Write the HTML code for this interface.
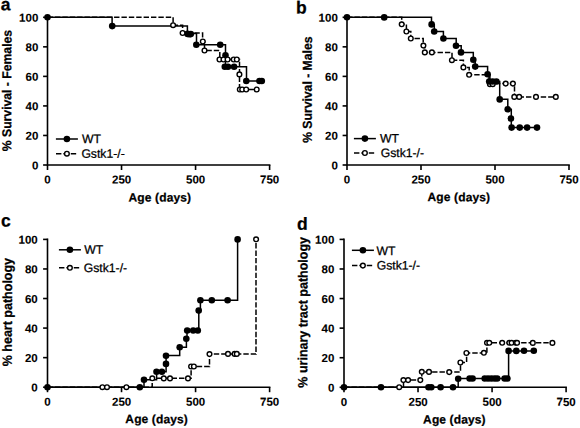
<!DOCTYPE html>
<html><head><meta charset="utf-8"><title>Survival and pathology</title>
<style>
html,body{margin:0;padding:0;background:#fff;}
body{width:580px;height:428px;overflow:hidden;}
svg{display:block;}
text{text-rendering:geometricPrecision;stroke:#000;stroke-width:0.25px;}
.ax path{stroke:#000;stroke-width:1.6;fill:none;stroke-linecap:square;}
.ax path.tk{stroke-linecap:butt;}
.tl{font-family:"Liberation Sans",sans-serif;font-weight:bold;font-size:12px;fill:#000;}
.tk{font-family:"Liberation Sans",sans-serif;font-weight:bold;font-size:11.5px;fill:#000;stroke-width:0.1px;}
.let{font-family:"Liberation Sans",sans-serif;font-weight:bold;font-size:17.5px;fill:#000;}
.lg{font-family:"Liberation Sans",sans-serif;font-size:12.2px;fill:#000;}
.wt{stroke:#000;stroke-width:1.5;fill:none;}
.ko{stroke:#000;stroke-width:1.5;fill:none;stroke-dasharray:5.4 1.985;stroke-dashoffset:-0.1;}
.fd{fill:#000;stroke:none;}
.oc{fill:#fff;stroke:#000;stroke-width:1.4;}
</style></head>
<body>
<svg width="580" height="428" viewBox="0 0 580 428">
<rect width="580" height="428" fill="#fff"/>
<g class="ax">
<path d="M47.5,17.3 V165 H269.6"/>
<path class="tk" d="M43.1,165 H47.5"/>
<path class="tk" d="M43.1,135.46 H47.5"/>
<path class="tk" d="M43.1,105.92 H47.5"/>
<path class="tk" d="M43.1,76.38 H47.5"/>
<path class="tk" d="M43.1,46.84 H47.5"/>
<path class="tk" d="M43.1,17.3 H47.5"/>
<path class="tk" d="M47.5,165 V170"/>
<path class="tk" d="M121.53,165 V170"/>
<path class="tk" d="M195.57,165 V170"/>
<path class="tk" d="M269.6,165 V170"/>
</g>
<text class="tk" x="38.3" y="169.4" text-anchor="end" transform="rotate(0.1 38.3 169.4)">0</text>
<text class="tk" x="38.3" y="139.86" text-anchor="end" transform="rotate(0.1 38.3 139.86)">20</text>
<text class="tk" x="38.3" y="110.32" text-anchor="end" transform="rotate(0.1 38.3 110.32)">40</text>
<text class="tk" x="38.3" y="80.78" text-anchor="end" transform="rotate(0.1 38.3 80.78)">60</text>
<text class="tk" x="38.3" y="51.24" text-anchor="end" transform="rotate(0.1 38.3 51.24)">80</text>
<text class="tk" x="38.3" y="21.7" text-anchor="end" transform="rotate(0.1 38.3 21.7)">100</text>
<text class="tk" x="47.55" y="183.6" text-anchor="middle" transform="rotate(0.1 47.55 183.6)">0</text>
<text class="tk" x="121.58" y="183.6" text-anchor="middle" transform="rotate(0.1 121.58 183.6)">250</text>
<text class="tk" x="195.62" y="183.6" text-anchor="middle" transform="rotate(0.1 195.62 183.6)">500</text>
<text class="tk" x="269.65" y="183.6" text-anchor="middle" transform="rotate(0.1 269.65 183.6)">750</text>
<text class="tl" style="font-size:12.2px" transform="translate(11.3,90.55) rotate(-89.9) scale(1,1.06)" text-anchor="middle">% Survival - Females</text>
<text class="tl" x="128.55" y="201.4" style="letter-spacing:0.13px" transform="rotate(0.1 128.55 201.4)">Age (days)</text>
<text class="let" x="0.8" y="10.3" transform="rotate(0.1 0.8 10.3)">a</text>
<path class="wt" d="M47.5,17.3 H112.1 V26.1 H187.4 V33.6 H196.5 V44.8 H225.5 V55.2 V66.8 H246.5 V81 H262"/>
<path class="ko" d="M47.5,17.3 H173.1 V25.2 H182.6 V33 H202.6 V41.5 H204.5 V50.5 H219.8 V59.5 H239.5 V74.4 V89.5 H256.7"/>
<circle class="fd" cx="47.5" cy="17.3" r="3.3"/>
<circle class="fd" cx="112.2" cy="26.1" r="3.3"/>
<circle class="fd" cx="187.6" cy="33.9" r="3.3"/>
<circle class="fd" cx="189.3" cy="34.3" r="3.3"/>
<circle class="fd" cx="190.8" cy="34.1" r="3.3"/>
<circle class="fd" cx="196.3" cy="44.8" r="3.3"/>
<circle class="fd" cx="220.2" cy="44.8" r="3.3"/>
<circle class="fd" cx="225.5" cy="55.2" r="3.3"/>
<circle class="fd" cx="224.8" cy="66.8" r="3.3"/>
<circle class="fd" cx="228" cy="66.8" r="3.3"/>
<circle class="fd" cx="234.1" cy="66.8" r="3.3"/>
<circle class="fd" cx="246.3" cy="81" r="3.3"/>
<circle class="fd" cx="259.5" cy="81" r="3.3"/>
<circle class="fd" cx="261.8" cy="81" r="3.3"/>
<circle class="oc" cx="173.1" cy="25.2" r="2.35"/>
<circle class="oc" cx="182.6" cy="33" r="2.35"/>
<circle class="oc" cx="202.8" cy="41.5" r="2.35"/>
<circle class="oc" cx="204.5" cy="50.5" r="2.35"/>
<circle class="oc" cx="219.5" cy="59.5" r="2.35"/>
<circle class="oc" cx="223.5" cy="59.5" r="2.35"/>
<circle class="oc" cx="227.6" cy="59.5" r="2.35"/>
<circle class="oc" cx="233.7" cy="59.5" r="2.35"/>
<circle class="oc" cx="236.8" cy="59.5" r="2.35"/>
<circle class="oc" cx="239.4" cy="74.4" r="2.35"/>
<circle class="oc" cx="239.8" cy="89.5" r="2.35"/>
<circle class="oc" cx="242.2" cy="89.5" r="2.35"/>
<circle class="oc" cx="246.2" cy="89.5" r="2.35"/>
<circle class="oc" cx="256.7" cy="89.5" r="2.35"/>
<path class="wt" d="M55.9,139 H77.9"/>
<circle class="fd" cx="66.9" cy="139" r="3.3"/>
<path class="ko" d="M55.9,153.7 H77.9"/>
<circle class="oc" cx="66.9" cy="153.7" r="2.35"/>
<text class="lg" x="82" y="143" transform="rotate(0.1 82 143)">WT</text>
<text class="lg" x="81.4" y="157.75" transform="rotate(0.1 81.4 157.75)">Gstk1-/-</text>
<g class="ax">
<path d="M347,17.3 V165 H569"/>
<path class="tk" d="M342.6,165 H347"/>
<path class="tk" d="M342.6,135.46 H347"/>
<path class="tk" d="M342.6,105.92 H347"/>
<path class="tk" d="M342.6,76.38 H347"/>
<path class="tk" d="M342.6,46.84 H347"/>
<path class="tk" d="M342.6,17.3 H347"/>
<path class="tk" d="M347,165 V170"/>
<path class="tk" d="M421,165 V170"/>
<path class="tk" d="M495,165 V170"/>
<path class="tk" d="M569,165 V170"/>
</g>
<text class="tk" x="337.8" y="169.4" text-anchor="end" transform="rotate(0.1 337.8 169.4)">0</text>
<text class="tk" x="337.8" y="139.86" text-anchor="end" transform="rotate(0.1 337.8 139.86)">20</text>
<text class="tk" x="337.8" y="110.32" text-anchor="end" transform="rotate(0.1 337.8 110.32)">40</text>
<text class="tk" x="337.8" y="80.78" text-anchor="end" transform="rotate(0.1 337.8 80.78)">60</text>
<text class="tk" x="337.8" y="51.24" text-anchor="end" transform="rotate(0.1 337.8 51.24)">80</text>
<text class="tk" x="337.8" y="21.7" text-anchor="end" transform="rotate(0.1 337.8 21.7)">100</text>
<text class="tk" x="347.05" y="183.6" text-anchor="middle" transform="rotate(0.1 347.05 183.6)">0</text>
<text class="tk" x="421.05" y="183.6" text-anchor="middle" transform="rotate(0.1 421.05 183.6)">250</text>
<text class="tk" x="495.05" y="183.6" text-anchor="middle" transform="rotate(0.1 495.05 183.6)">500</text>
<text class="tk" x="569.05" y="183.6" text-anchor="middle" transform="rotate(0.1 569.05 183.6)">750</text>
<text class="tl" style="font-size:12.2px" transform="translate(311.8,89.7) rotate(-89.9) scale(1,1.06)" text-anchor="middle">% Survival - Males</text>
<text class="tl" x="427.55" y="201.1" style="letter-spacing:0.13px" transform="rotate(0.1 427.55 201.1)">Age (days)</text>
<text class="let" x="295.9" y="13.6" transform="rotate(0.1 295.9 13.6)">b</text>
<path class="wt" d="M347,17.3 H431.5 V24.4 H434.3 V31.4 H443.4 V38.5 H456.2 V45.7 H461.2 V52.4 H473.3 V59.8 H475.2 V66.6 H487.6 V74.3 H489 V81.5 H499.7 V99.2 H507.8 V109.2 H511.3 V118.5 V127.6 H537"/>
<path class="ko" d="M347,17.3 H401.7 V24.3 H406.4 V31.5 H410.8 V38.5 H423.2 V45.6 H424.8 V52.4 H452 V60.2 H463.4 V67.4 H469.2 V74.8 H489.9 V83.6 H514.5 V96.9 H555.8"/>
<circle class="oc" cx="489.9" cy="84.2" r="2.35"/>
<circle class="oc" cx="492.7" cy="84.2" r="2.35"/>
<circle class="fd" cx="347" cy="17.3" r="3.3"/>
<circle class="fd" cx="384.2" cy="17.4" r="3.3"/>
<circle class="fd" cx="431.6" cy="24.4" r="3.3"/>
<circle class="fd" cx="434.2" cy="31.5" r="3.3"/>
<circle class="fd" cx="443.4" cy="38.5" r="3.3"/>
<circle class="fd" cx="456" cy="45.7" r="3.3"/>
<circle class="fd" cx="461" cy="52.4" r="3.3"/>
<circle class="fd" cx="473.3" cy="59.8" r="3.3"/>
<circle class="fd" cx="475.2" cy="66.6" r="3.3"/>
<circle class="fd" cx="487.6" cy="74.3" r="3.3"/>
<circle class="fd" cx="489.2" cy="81.5" r="3.3"/>
<circle class="fd" cx="492.6" cy="81.5" r="3.3"/>
<circle class="fd" cx="496.4" cy="81.5" r="3.3"/>
<circle class="fd" cx="499.7" cy="99.4" r="3.3"/>
<circle class="fd" cx="507.7" cy="109.3" r="3.3"/>
<circle class="fd" cx="510.9" cy="118.5" r="3.3"/>
<circle class="fd" cx="511.6" cy="127.6" r="3.3"/>
<circle class="fd" cx="519.7" cy="127.6" r="3.3"/>
<circle class="fd" cx="527.1" cy="127.6" r="3.3"/>
<circle class="fd" cx="537" cy="127.6" r="3.3"/>
<circle class="oc" cx="401.7" cy="24.3" r="2.35"/>
<circle class="oc" cx="406.4" cy="31.5" r="2.35"/>
<circle class="oc" cx="410.8" cy="38.5" r="2.35"/>
<circle class="oc" cx="423.4" cy="45.6" r="2.35"/>
<circle class="oc" cx="424.8" cy="52.4" r="2.35"/>
<circle class="oc" cx="431.9" cy="52.4" r="2.35"/>
<circle class="oc" cx="451.9" cy="60.2" r="2.35"/>
<circle class="oc" cx="463.4" cy="67.4" r="2.35"/>
<circle class="oc" cx="469.1" cy="74.8" r="2.35"/>
<circle class="oc" cx="505.7" cy="83.6" r="2.35"/>
<circle class="oc" cx="512.9" cy="83.6" r="2.35"/>
<circle class="oc" cx="514.3" cy="96.9" r="2.35"/>
<circle class="oc" cx="519.2" cy="96.9" r="2.35"/>
<circle class="oc" cx="536" cy="96.9" r="2.35"/>
<circle class="oc" cx="555.8" cy="96.9" r="2.35"/>
<path class="wt" d="M353.9,138.6 H375.9"/>
<circle class="fd" cx="364.9" cy="138.6" r="3.3"/>
<path class="ko" d="M353.9,153 H375.9"/>
<circle class="oc" cx="364.9" cy="153" r="2.35"/>
<text class="lg" x="379.9" y="142.5" transform="rotate(0.1 379.9 142.5)">WT</text>
<text class="lg" x="380.7" y="157" transform="rotate(0.1 380.7 157)">Gstk1-/-</text>
<g class="ax">
<path d="M47.5,239.4 V387.2 H269.6"/>
<path class="tk" d="M43.1,387.2 H47.5"/>
<path class="tk" d="M43.1,357.64 H47.5"/>
<path class="tk" d="M43.1,328.08 H47.5"/>
<path class="tk" d="M43.1,298.52 H47.5"/>
<path class="tk" d="M43.1,268.96 H47.5"/>
<path class="tk" d="M43.1,239.4 H47.5"/>
<path class="tk" d="M47.5,387.2 V392.2"/>
<path class="tk" d="M121.53,387.2 V392.2"/>
<path class="tk" d="M195.57,387.2 V392.2"/>
<path class="tk" d="M269.6,387.2 V392.2"/>
</g>
<text class="tk" x="37.7" y="391.6" text-anchor="end" transform="rotate(0.1 37.7 391.6)">0</text>
<text class="tk" x="37.7" y="362.04" text-anchor="end" transform="rotate(0.1 37.7 362.04)">20</text>
<text class="tk" x="37.7" y="332.48" text-anchor="end" transform="rotate(0.1 37.7 332.48)">40</text>
<text class="tk" x="37.7" y="302.92" text-anchor="end" transform="rotate(0.1 37.7 302.92)">60</text>
<text class="tk" x="37.7" y="273.36" text-anchor="end" transform="rotate(0.1 37.7 273.36)">80</text>
<text class="tk" x="37.7" y="243.8" text-anchor="end" transform="rotate(0.1 37.7 243.8)">100</text>
<text class="tk" x="47.55" y="405.8" text-anchor="middle" transform="rotate(0.1 47.55 405.8)">0</text>
<text class="tk" x="121.58" y="405.8" text-anchor="middle" transform="rotate(0.1 121.58 405.8)">250</text>
<text class="tk" x="195.62" y="405.8" text-anchor="middle" transform="rotate(0.1 195.62 405.8)">500</text>
<text class="tk" x="269.65" y="405.8" text-anchor="middle" transform="rotate(0.1 269.65 405.8)">750</text>
<text class="tl" style="font-size:12.5px" transform="translate(11.9,312.1) rotate(-89.9) scale(1,1.06)" text-anchor="middle">% heart pathology</text>
<text class="tl" x="125.35" y="423.1" style="letter-spacing:0.13px" transform="rotate(0.1 125.35 423.1)">Age (days)</text>
<text class="let" x="0.9" y="226.4" transform="rotate(0.1 0.9 226.4)">c</text>
<path class="wt" d="M47.5,387.2 H144 V379.7 H156.6 V371.7 H166.1 V363.9 V355.6 H179.7 V347.2 H186.4 V338.7 H187 V330.5 H198.8 V310.7 H200.4 V300.2 H237.6 V239.4"/>
<path class="ko" d="M47.5,387.2 H152.2 V378.3 H191.1 V366.5 H209.5 V354 H256 V239.4"/>
<circle class="fd" cx="47.5" cy="387.2" r="3.3"/>
<circle class="fd" cx="139.8" cy="387.2" r="3.3"/>
<circle class="fd" cx="144" cy="379.7" r="3.3"/>
<circle class="fd" cx="156.5" cy="371.7" r="3.3"/>
<circle class="fd" cx="161.9" cy="371.7" r="3.3"/>
<circle class="fd" cx="166" cy="363.9" r="3.3"/>
<circle class="fd" cx="166" cy="355.7" r="3.3"/>
<circle class="fd" cx="179.7" cy="347.3" r="3.3"/>
<circle class="fd" cx="186.3" cy="338.7" r="3.3"/>
<circle class="fd" cx="187.2" cy="330.5" r="3.3"/>
<circle class="fd" cx="193.2" cy="330.5" r="3.3"/>
<circle class="fd" cx="197.8" cy="330.5" r="3.3"/>
<circle class="fd" cx="198.7" cy="310.6" r="3.3"/>
<circle class="fd" cx="200.4" cy="300.2" r="3.3"/>
<circle class="fd" cx="211.8" cy="300.2" r="3.3"/>
<circle class="fd" cx="227.6" cy="300.2" r="3.3"/>
<circle class="fd" cx="237.6" cy="239.4" r="3.3"/>
<circle class="oc" cx="102.4" cy="387.2" r="2.35"/>
<circle class="oc" cx="107" cy="387.2" r="2.35"/>
<circle class="oc" cx="126.4" cy="387.2" r="2.35"/>
<circle class="oc" cx="152.3" cy="378.3" r="2.35"/>
<circle class="oc" cx="163.8" cy="378.4" r="2.35"/>
<circle class="oc" cx="170" cy="378.4" r="2.35"/>
<circle class="oc" cx="188" cy="378.4" r="2.35"/>
<circle class="oc" cx="191.1" cy="366.5" r="2.35"/>
<circle class="oc" cx="193.9" cy="366.5" r="2.35"/>
<circle class="oc" cx="209.5" cy="354.1" r="2.35"/>
<circle class="oc" cx="228" cy="353.9" r="2.35"/>
<circle class="oc" cx="234.6" cy="353.9" r="2.35"/>
<circle class="oc" cx="236.8" cy="353.9" r="2.35"/>
<circle class="oc" cx="256.1" cy="239.3" r="2.35"/>
<path class="wt" d="M58.9,249.8 H80.9"/>
<circle class="fd" cx="69.9" cy="249.8" r="3.3"/>
<path class="ko" d="M58.9,267.8 H80.9"/>
<circle class="oc" cx="69.9" cy="267.8" r="2.35"/>
<text class="lg" x="84.35" y="253.75" transform="rotate(0.1 84.35 253.75)">WT</text>
<text class="lg" x="83.75" y="271.9" transform="rotate(0.1 83.75 271.9)">Gstk1-/-</text>
<g class="ax">
<path d="M344,239.4 V387.3 H566.1"/>
<path class="tk" d="M339.6,387.3 H344"/>
<path class="tk" d="M339.6,357.72 H344"/>
<path class="tk" d="M339.6,328.14 H344"/>
<path class="tk" d="M339.6,298.56 H344"/>
<path class="tk" d="M339.6,268.98 H344"/>
<path class="tk" d="M339.6,239.4 H344"/>
<path class="tk" d="M344,387.3 V392.3"/>
<path class="tk" d="M418.03,387.3 V392.3"/>
<path class="tk" d="M492.07,387.3 V392.3"/>
<path class="tk" d="M566.1,387.3 V392.3"/>
</g>
<text class="tk" x="334.3" y="391.7" text-anchor="end" transform="rotate(0.1 334.3 391.7)">0</text>
<text class="tk" x="334.3" y="362.12" text-anchor="end" transform="rotate(0.1 334.3 362.12)">20</text>
<text class="tk" x="334.3" y="332.54" text-anchor="end" transform="rotate(0.1 334.3 332.54)">40</text>
<text class="tk" x="334.3" y="302.96" text-anchor="end" transform="rotate(0.1 334.3 302.96)">60</text>
<text class="tk" x="334.3" y="273.38" text-anchor="end" transform="rotate(0.1 334.3 273.38)">80</text>
<text class="tk" x="334.3" y="243.8" text-anchor="end" transform="rotate(0.1 334.3 243.8)">100</text>
<text class="tk" x="344.05" y="405.9" text-anchor="middle" transform="rotate(0.1 344.05 405.9)">0</text>
<text class="tk" x="418.08" y="405.9" text-anchor="middle" transform="rotate(0.1 418.08 405.9)">250</text>
<text class="tk" x="492.12" y="405.9" text-anchor="middle" transform="rotate(0.1 492.12 405.9)">500</text>
<text class="tk" x="566.15" y="405.9" text-anchor="middle" transform="rotate(0.1 566.15 405.9)">750</text>
<text class="tl" style="font-size:12.5px" transform="translate(307.45,312.3) rotate(-89.9) scale(1,1.06)" text-anchor="middle">% urinary tract pathology</text>
<text class="tl" x="423.1" y="423.4" style="letter-spacing:0.13px" transform="rotate(0.1 423.1 423.4)">Age (days)</text>
<text class="let" x="296.95" y="229.8" transform="rotate(0.1 296.95 229.8)">d</text>
<path class="wt" d="M344,387.3 H458.2 V378.6 H508.6 V350.9 H533.8"/>
<path class="ko" d="M344,387.3 H403.5 V380.1 H421.8 V371.9 H460.5 V362.5 H466.6 V353 H486.9 V342.8 H552.4"/>
<circle class="fd" cx="344" cy="387.3" r="3.3"/>
<circle class="fd" cx="381" cy="387.2" r="3.3"/>
<circle class="fd" cx="428.5" cy="387.2" r="3.3"/>
<circle class="fd" cx="431.3" cy="387.2" r="3.3"/>
<circle class="fd" cx="440.6" cy="387.2" r="3.3"/>
<circle class="fd" cx="453" cy="387.2" r="3.3"/>
<circle class="fd" cx="458.2" cy="378.7" r="3.3"/>
<circle class="fd" cx="469.6" cy="378.5" r="3.3"/>
<circle class="fd" cx="472.6" cy="378.5" r="3.3"/>
<circle class="fd" cx="484.7" cy="378.5" r="3.3"/>
<circle class="fd" cx="488" cy="378.5" r="3.3"/>
<circle class="fd" cx="491.3" cy="378.5" r="3.3"/>
<circle class="fd" cx="494.5" cy="378.5" r="3.3"/>
<circle class="fd" cx="497.2" cy="378.5" r="3.3"/>
<circle class="fd" cx="504.6" cy="378.5" r="3.3"/>
<circle class="fd" cx="507.4" cy="378.5" r="3.3"/>
<circle class="fd" cx="508.6" cy="350.9" r="3.3"/>
<circle class="fd" cx="516.3" cy="350.9" r="3.3"/>
<circle class="fd" cx="524" cy="350.8" r="3.3"/>
<circle class="fd" cx="533.8" cy="350.8" r="3.3"/>
<circle class="oc" cx="399.2" cy="387.2" r="2.35"/>
<circle class="oc" cx="403.4" cy="380.1" r="2.35"/>
<circle class="oc" cx="408.1" cy="380.1" r="2.35"/>
<circle class="oc" cx="420.3" cy="380.1" r="2.35"/>
<circle class="oc" cx="421.8" cy="371.8" r="2.35"/>
<circle class="oc" cx="429" cy="371.9" r="2.35"/>
<circle class="oc" cx="449.2" cy="372.1" r="2.35"/>
<circle class="oc" cx="460.4" cy="362.5" r="2.35"/>
<circle class="oc" cx="466.4" cy="353" r="2.35"/>
<circle class="oc" cx="483.9" cy="352.8" r="2.35"/>
<circle class="oc" cx="487" cy="342.8" r="2.35"/>
<circle class="oc" cx="489.3" cy="342.8" r="2.35"/>
<circle class="oc" cx="502.2" cy="342.8" r="2.35"/>
<circle class="oc" cx="509.3" cy="342.8" r="2.35"/>
<circle class="oc" cx="511.6" cy="342.8" r="2.35"/>
<circle class="oc" cx="515.8" cy="342.8" r="2.35"/>
<circle class="oc" cx="517.1" cy="342.8" r="2.35"/>
<circle class="oc" cx="532.8" cy="342.9" r="2.35"/>
<circle class="oc" cx="552.4" cy="342.9" r="2.35"/>
<path class="wt" d="M351.9,250.3 H373.9"/>
<circle class="fd" cx="362.9" cy="250.3" r="3.3"/>
<path class="ko" d="M351.9,265.6 H373.9"/>
<circle class="oc" cx="362.9" cy="265.6" r="2.35"/>
<text class="lg" x="376.6" y="254.9" transform="rotate(0.1 376.6 254.9)">WT</text>
<text class="lg" x="376.7" y="269.5" transform="rotate(0.1 376.7 269.5)">Gstk1-/-</text>
</svg>
</body></html>
